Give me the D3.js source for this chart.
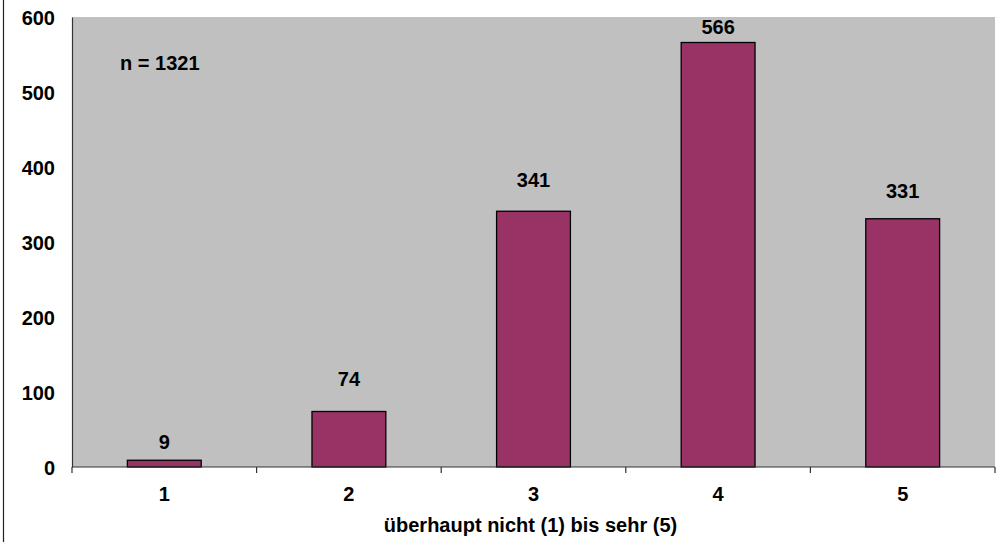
<!DOCTYPE html>
<html>
<head>
<meta charset="utf-8">
<script src="https://cdn.jsdelivr.net/npm/d3@7"></script>
<style>
  body { margin: 0; background: #fff; }
  svg text { font-family: "Liberation Sans", Arial, sans-serif; font-weight: bold; fill: #000; }
</style>
</head>
<body>
<svg id="chart"></svg>
<script>
var width = 1000
var height = 542

var categories = ["1", "2", "3", "4", "5"]
var counts = [9, 74, 341, 566, 331]
var yTicks = [0, 100, 200, 300, 400, 500, 600]
var labelGaps = [11, 26, 24.5, 8.5, 20.5]   // label distance above bar top, as placed in the original
var sampleNote = "n = 1321"
var xTitle = "überhaupt nicht (1) bis sehr (5)"

var plotLeft = 72, plotRight = 995, plotTop = 17, plotBottom = 467
var fontSize = 20

var svg = d3.select("#chart")
  .attr("width", width)
  .attr("height", height)

// outer frame edge on the left
svg.append("line")
  .attr("x1", 3.5).attr("x2", 3.5)
  .attr("y1", 0).attr("y2", height)
  .attr("stroke", "#222")
  .attr("stroke-width", 1.2)

var x = d3.scaleBand()
  .domain(categories)
  .range([plotLeft, plotRight])
  .padding(0)

var y = d3.scaleLinear()
  .domain([0, 600])
  .range([plotBottom, plotTop])

// plot area
svg.append("rect")
  .attr("x", plotLeft).attr("y", plotTop)
  .attr("width", plotRight - plotLeft).attr("height", plotBottom - plotTop)
  .attr("fill", "#c0c0c0")

// bars
var barW = x.bandwidth() * 0.4
svg.selectAll("rect.bar")
  .data(counts)
  .enter()
  .append("rect")
  .classed("bar", true)
  .attr("x", (d, i) => x(categories[i]) + (x.bandwidth() - barW) / 2)
  .attr("y", d => y(d))
  .attr("width", barW)
  .attr("height", d => y(0) - y(d))
  .attr("fill", "#993366")
  .attr("stroke", "#000")
  .attr("stroke-width", 1.3)

// value labels
svg.selectAll("text.val")
  .data(counts)
  .enter()
  .append("text")
  .classed("val", true)
  .attr("x", (d, i) => x(categories[i]) + x.bandwidth() / 2)
  .attr("y", (d, i) => y(d) - labelGaps[i])
  .attr("text-anchor", "middle")
  .attr("font-size", fontSize)
  .text(d => d)

// y axis
var yAxis = d3.axisLeft(y)
  .tickValues(yTicks)
  .tickSize(0)
  .tickPadding(17)
var gy = svg.append("g")
  .attr("transform", "translate(" + plotLeft + ",0)")
  .call(yAxis)
gy.select(".domain").attr("stroke", "#333").attr("stroke-width", 1.2)
gy.selectAll("text")
  .attr("font-size", fontSize)
  .attr("font-family", null)
  .attr("dy", "0.36em")
gy.attr("font-family", null).attr("font-size", null)

// x axis with ticks between categories
var gx = svg.append("g")
  .attr("transform", "translate(0," + plotBottom + ")")
gx.append("line")
  .attr("x1", plotLeft).attr("x2", plotRight)
  .attr("stroke", "#333").attr("stroke-width", 1.2)
var bounds = categories.map(c => x(c)).concat([plotRight])
gx.selectAll("line.tick")
  .data(bounds)
  .enter()
  .append("line")
  .classed("tick", true)
  .attr("x1", d => d).attr("x2", d => d)
  .attr("y1", 0).attr("y2", 6)
  .attr("stroke", "#333").attr("stroke-width", 1.2)
gx.selectAll("text")
  .data(categories)
  .enter()
  .append("text")
  .attr("x", d => x(d) + x.bandwidth() / 2)
  .attr("y", 34)
  .attr("text-anchor", "middle")
  .attr("font-size", fontSize)
  .text(d => d)

// axis title
svg.append("text")
  .attr("x", (plotLeft + plotRight) / 2 - 3)
  .attr("y", 532)
  .attr("text-anchor", "middle")
  .attr("font-size", fontSize)
  .text(xTitle)

// sample size note
svg.append("text")
  .attr("x", 120)
  .attr("y", 70)
  .attr("font-size", fontSize)
  .text(sampleNote)
</script>
</body>
</html>
